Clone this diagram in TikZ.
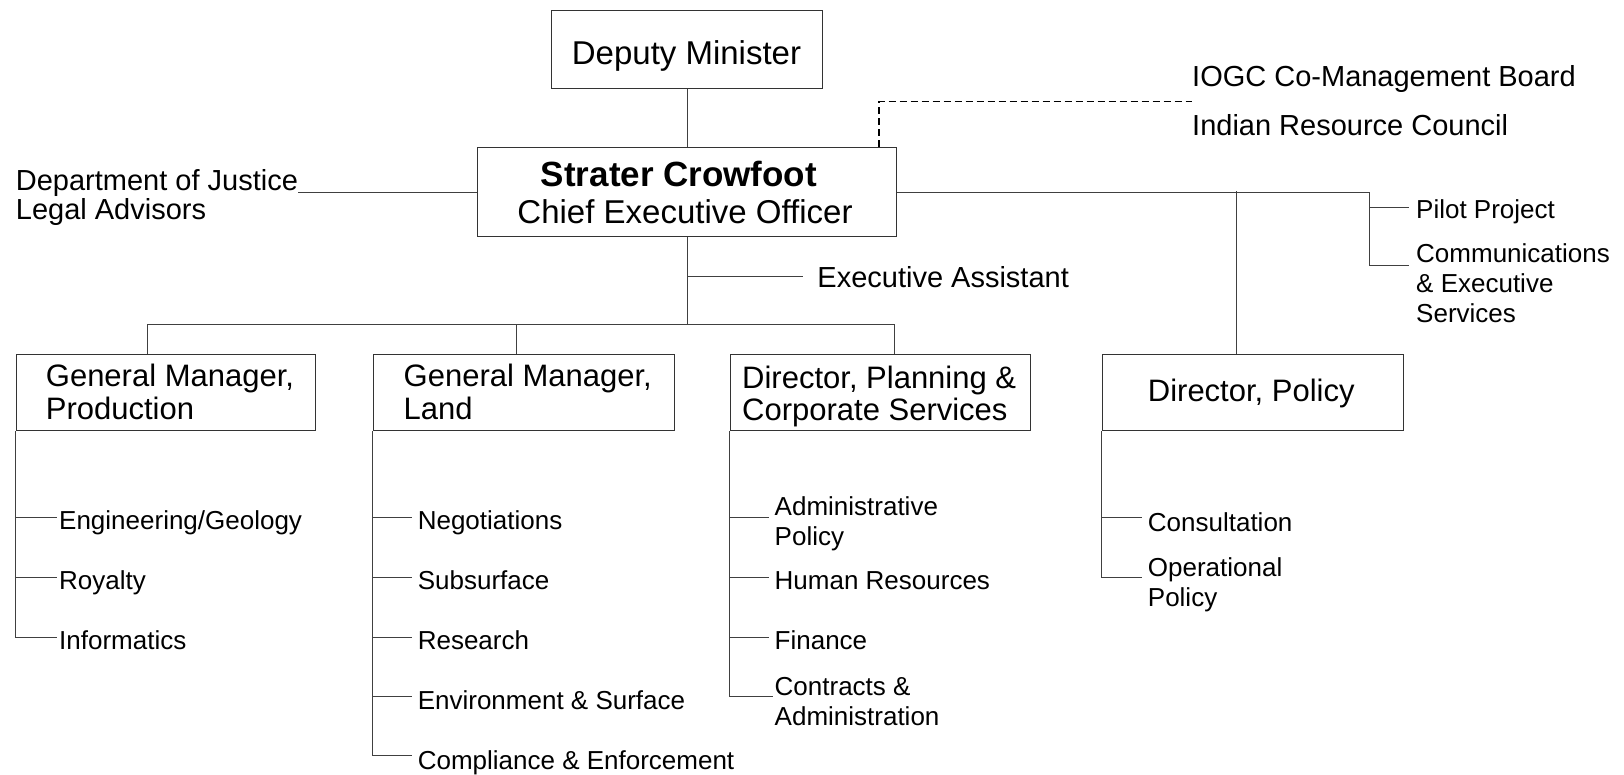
\documentclass[tikz,border=0pt]{standalone}
\usepackage{fontspec}
\setmainfont{Liberation Sans}
\newcommand{\szSub}{\fontsize{26}{30}\selectfont}
\newcommand{\szBox}{\fontsize{31}{32.5}\selectfont}
\newcommand{\szSide}{\fontsize{29}{29.5}\selectfont}
\newcommand{\szHead}{\fontsize{33}{36}\selectfont}
\newcommand{\szName}{\fontsize{35}{38}\selectfont\bfseries}
\begin{document}
\begin{tikzpicture}[x=1pt,y=-1pt,
  box/.style={draw=black!80,line width=1.2pt,inner sep=0pt,anchor=north west},
  conn/.style={draw=black!75,line width=1pt},
  dashconn/.style={draw=black,line width=1.2pt,dash pattern=on 7pt off 4pt},
  lbl/.style={inner sep=0pt,anchor=base west,align=left},
  ctr/.style={inner sep=0pt,anchor=base},
]
\useasboundingbox (0,0) rectangle (1624,775);

% boxes
\node[box,minimum width=271pt,minimum height=78pt] (dm) at (551,10) {};
\node[box,minimum width=419pt,minimum height=89pt] (ceo) at (477,147) {};
\node[box,minimum width=299.3pt,minimum height=76pt] (gmp) at (15.7,354) {};
\node[box,minimum width=301.2pt,minimum height=76pt] (gml) at (372.8,354) {};
\node[box,minimum width=300pt,minimum height=76pt] (dpc) at (729.8,354) {};
\node[box,minimum width=301.3pt,minimum height=76pt] (dpo) at (1101.7,354) {};

% box texts (base anchor of multi-line text = last line)
\node[ctr,font=\szHead] (dmt) at (686.5,64.3) {Deputy Minister};
\node[ctr,font=\szName] (ceon) at (679,186.5) {Strater Crowfoot};
\node[ctr,font=\szHead] (ceot) at (685,223.1) {Chief Executive Officer};
\node[lbl,font=\szBox] (gmpt) at (45.7,419.4) {General Manager,\\Production};
\node[lbl,font=\szBox] (gmlt) at (403.5,419.4) {General Manager,\\Land};
\node[lbl,font=\szBox] (dpct) at (742,420.6) {Director, Planning \&\\Corporate Services};
\node[lbl,font=\szBox] (dpot) at (1147.7,401.4) {Director, Policy};

% side texts
\node[lbl,font=\szSide] (doj) at (15.7,219.9) {Department of Justice\\Legal Advisors};
\node[lbl,font=\szSide] (iogc) at (1192,86.2) {IOGC Co-Management Board};
\node[lbl,font=\szSide] (irc) at (1192,135.9) {Indian Resource Council};
\node[lbl,font=\szSide] (ea) at (817.2,288) {Executive Assistant};
\node[lbl,font=\szSub] (pp) at (1416,218.1) {Pilot Project};
\node[lbl,font=\szSub] (ces) at (1416,322.1) {Communications\\\& Executive\\Services};

% top connectors
\draw[conn] (dm.south) -- (ceo.north);
\draw[conn] (ceo.west) -- (ceo.west -| doj.east);
\coordinate (dk) at (879,101.7);
\draw[dashconn] (ceo.north -| dk) -- (dk) -- (dk -| iogc.west);
\coordinate (rj) at (1369,207.7);
\coordinate (polj) at (1236,191.5);
\draw[conn] (ceo.east) -- (ceo.east -| rj) -- (rj |- 0,266);
\draw[conn,shorten >=7pt] (rj) -- (pp.west |- rj);
\draw[conn,shorten >=7pt] (rj |- 0,266) -- (ces.west |- 0,266);
\draw[conn] (polj) -- (polj |- dpo.north);

% CEO down
\coordinate (busl) at (147,324.5);
\coordinate (busm) at (516.8,324.5);
\coordinate (busr) at (894,324.5);
\draw[conn] (ceo.south) -- (ceo.south |- busl);
\draw[conn,shorten >=14pt] (ceo.south |- 0,276.5) -- (ea.west |- 0,276.5);
\draw[conn] (busl |- gmp.north) -- (busl) -- (busr) -- (busr |- dpc.north);
\draw[conn] (busm) -- (busm |- gml.north);

% Production
\node[lbl,font=\szSub] (eng) at (59,529.3) {Engineering/Geology};
\node[lbl,font=\szSub] (roy) at (59,589.3) {Royalty};
\node[lbl,font=\szSub] (inf) at (59,649.3) {Informatics};
\draw[conn,shorten >=2pt] (gmp.south west) -- (gmp.south west |- 0,637.7) -- (inf.west |- 0,637.7);
\draw[conn,shorten >=2pt] (gmp.south west |- 0,517.7) -- (eng.west |- 0,517.7);
\draw[conn,shorten >=2pt] (gmp.south west |- 0,577.7) -- (roy.west |- 0,577.7);

% Land
\node[lbl,font=\szSub] (neg) at (417.6,529.3) {Negotiations};
\node[lbl,font=\szSub] (sub) at (417.6,589.3) {Subsurface};
\node[lbl,font=\szSub] (res) at (417.6,649.3) {Research};
\node[lbl,font=\szSub] (env) at (417.6,709.6) {Environment \& Surface};
\node[lbl,font=\szSub] (cmp) at (417.6,769) {Compliance \& Enforcement};
\draw[conn,shorten >=6pt] (gml.south west) -- (gml.south west |- 0,755) -- (cmp.west |- 0,755);
\draw[conn,shorten >=6pt] (gml.south west |- 0,517.7) -- (neg.west |- 0,517.7);
\draw[conn,shorten >=6pt] (gml.south west |- 0,577.7) -- (sub.west |- 0,577.7);
\draw[conn,shorten >=6pt] (gml.south west |- 0,637.7) -- (res.west |- 0,637.7);
\draw[conn,shorten >=6pt] (gml.south west |- 0,696.7) -- (env.west |- 0,696.7);

% Planning
\node[lbl,font=\szSub] (adm) at (774.5,545.6) {Administrative\\Policy};
\node[lbl,font=\szSub] (hr) at (774.5,589.3) {Human Resources};
\node[lbl,font=\szSub] (fin) at (774.5,649.3) {Finance};
\node[lbl,font=\szSub] (con) at (774.5,725.3) {Contracts \&\\Administration};
\draw[conn,shorten >=2pt] (dpc.south west) -- (dpc.south west |- 0,696.7) -- (con.west |- 0,696.7);
\draw[conn,shorten >=6pt] (dpc.south west |- 0,517.7) -- (adm.west |- 0,517.7);
\draw[conn,shorten >=6pt] (dpc.south west |- 0,577.7) -- (hr.west |- 0,577.7);
\draw[conn,shorten >=6pt] (dpc.south west |- 0,637.7) -- (fin.west |- 0,637.7);

% Policy
\node[lbl,font=\szSub] (cons) at (1147.7,531.3) {Consultation};
\node[lbl,font=\szSub] (opp) at (1147.7,606) {Operational\\Policy};
\draw[conn,shorten >=6pt] (dpo.south west) -- (dpo.south west |- 0,577.7) -- (opp.west |- 0,577.7);
\draw[conn,shorten >=6pt] (dpo.south west |- 0,517.7) -- (cons.west |- 0,517.7);
\end{tikzpicture}
\end{document}
